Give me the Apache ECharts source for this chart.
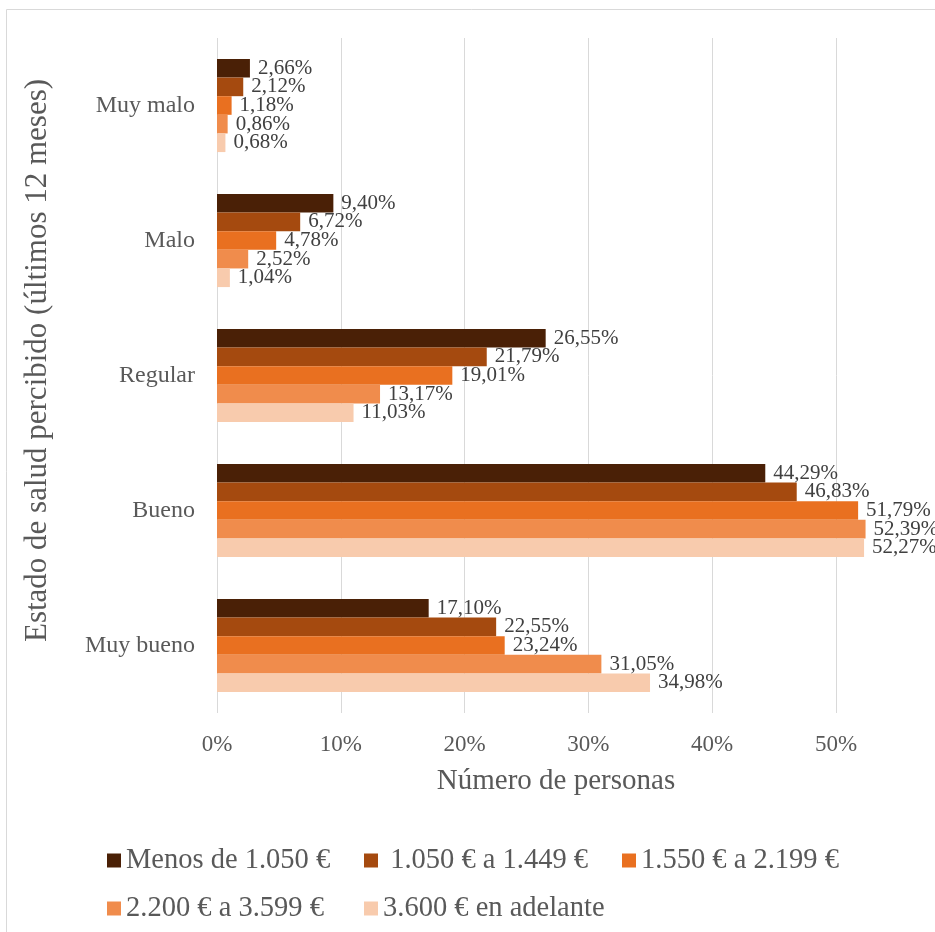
<!DOCTYPE html>
<html>
<head>
<meta charset="utf-8">
<script src="https://cdn.jsdelivr.net/npm/echarts@6/dist/echarts.min.js"></script>
<style>
  html, body { margin: 0; padding: 0; background: #fff; }
  #chart { width: 935px; height: 932px; }
</style>
</head>
<body>
<div id="chart"></div>
<script>
  // categorias (de arriba a abajo)
  const categorias = ['Muy malo', 'Malo', 'Regular', 'Bueno', 'Muy bueno'];
  // tramos de ingresos
  const tramos = ['Menos de 1.050 €', '1.050 € a 1.449 €', '1.550 € a 2.199 €', '2.200 € a 3.599 €', '3.600 € en adelante'];
  const menos1050 = [2.66, 9.40, 26.55, 44.29, 17.10];
  const de1050a1449 = [2.12, 6.72, 21.79, 46.83, 22.55];
  const de1550a2199 = [1.18, 4.78, 19.01, 51.79, 23.24];
  const de2200a3599 = [0.86, 2.52, 13.17, 52.39, 31.05];
  const desde3600 = [0.68, 1.04, 11.03, 52.27, 34.98];
  const valores = [menos1050, de1050a1449, de1550a2199, de2200a3599, desde3600];
  const colores = ['#4a2006', '#a54a0f', '#e97020', '#f08c4c', '#f8cbad'];

  const fuente = 'Liberation Serif';
  let chart = echarts.init(document.getElementById('chart'));

  // una leyenda por elemento para colocarlas como en el original
  const posLeyenda = [[102, 841], [359, 841], [617, 841], [102, 889], [359, 889]];
  let leyendas = tramos.map((t, i) => ({
    data: [t],
    left: posLeyenda[i][0],
    top: posLeyenda[i][1],
    itemWidth: 14,
    itemHeight: 14,
    icon: 'rect',
    formatter: i === 1 ? ' {name}' : '{name}',
    textStyle: { fontFamily: fuente, fontSize: 28.5, color: '#595959' }
  }));

  chart.setOption({
    animation: false,
    graphic: [{
      type: 'rect',
      shape: { x: 6.5, y: 9.5, width: 1000, height: 1000 },
      style: { fill: 'none', stroke: '#d9d9d9', lineWidth: 1 }
    }],
    legend: leyendas,
    // el original esta recortado por la derecha (el eje llega a 60%)
    grid: { left: 217, right: 0, top: 38, bottom: 219 },
    xAxis: {
      type: 'value',
      min: 0,
      max: 58,
      interval: 10,
      name: 'Número de personas',
      nameLocation: 'middle',
      nameGap: 54,
      nameTextStyle: { fontFamily: fuente, fontSize: 29, color: '#595959', padding: [0, 40, 0, 0] },
      axisLine: { show: false },
      axisTick: { show: false },
      axisLabel: {
        formatter: '{value}%',
        margin: 20,
        showMaxLabel: false,
        fontFamily: fuente, fontSize: 23, color: '#595959'
      },
      splitLine: { lineStyle: { color: '#d9d9d9', width: 1 } }
    },
    yAxis: {
      type: 'category',
      data: categorias,
      inverse: true,
      name: 'Estado de salud percibido (últimos 12 meses)',
      nameLocation: 'middle',
      nameGap: 164,
      nameTextStyle: { fontFamily: fuente, fontSize: 31, color: '#595959', padding: [0, 0, 0, 30] },
      axisLine: { show: false },
      axisTick: { show: false },
      axisLabel: { margin: 22, fontFamily: fuente, fontSize: 24, color: '#595959' }
    },
    series: tramos.map((t, i) => ({
      name: t,
      type: 'bar',
      data: valores[i],
      barGap: '0%',
      barCategoryGap: '31%',
      itemStyle: { color: colores[i] },
      label: {
        show: true,
        position: 'right',
        distance: 8,
        fontFamily: fuente,
        fontSize: 21,
        color: '#404040',
        formatter: p => p.value.toFixed(2).replace('.', ',') + '%'
      }
    }))
  });
</script>
</body>
</html>
